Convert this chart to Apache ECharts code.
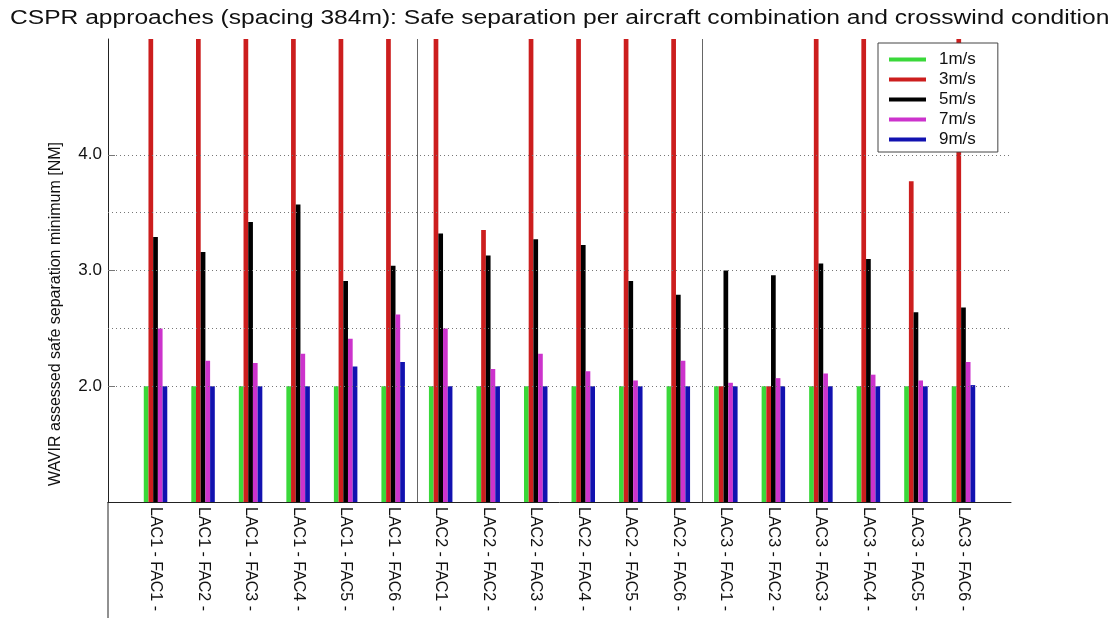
<!DOCTYPE html>
<html>
<head>
<meta charset="utf-8">
<script src="https://cdn.jsdelivr.net/npm/echarts@6/dist/echarts.min.js"></script>
<style>
  html, body { margin: 0; padding: 0; background: #fff; }
  #main { width: 1114px; height: 618px; }
</style>
</head>
<body>
<div id="main"></div>
<script>
    // aircraft combinations (x positions 1..18, axis runs 0..19)
    var combos = [
        'LAC1 - FAC1 -', 'LAC1 - FAC2 -', 'LAC1 - FAC3 -', 'LAC1 - FAC4 -', 'LAC1 - FAC5 -', 'LAC1 - FAC6 -',
        'LAC2 - FAC1 -', 'LAC2 - FAC2 -', 'LAC2 - FAC3 -', 'LAC2 - FAC4 -', 'LAC2 - FAC5 -', 'LAC2 - FAC6 -',
        'LAC3 - FAC1 -', 'LAC3 - FAC2 -', 'LAC3 - FAC3 -', 'LAC3 - FAC4 -', 'LAC3 - FAC5 -', 'LAC3 - FAC6 -'
    ];
    var winds = ['1m/s', '3m/s', '5m/s', '7m/s', '9m/s'];

    // safe separation [NM]; 3m/s values above 5 run off the top of the plot
    var sep1 = [2.0, 2.0, 2.0, 2.0, 2.0, 2.0, 2.0, 2.0, 2.0, 2.0, 2.0, 2.0, 2.0, 2.0, 2.0, 2.0, 2.0, 2.0];
    var sep3 = [5.6, 5.6, 5.6, 5.6, 5.6, 5.6, 5.6, 3.35, 5.6, 5.6, 5.6, 5.6, 2.0, 2.0, 5.6, 5.6, 3.77, 5.6];
    var sep5 = [3.29, 3.16, 3.42, 3.57, 2.91, 3.04, 3.32, 3.13, 3.27, 3.22, 2.91, 2.79, 3.0, 2.96, 3.06, 3.1, 2.64, 2.68];
    var sep7 = [2.5, 2.22, 2.2, 2.28, 2.41, 2.62, 2.5, 2.15, 2.28, 2.13, 2.05, 2.22, 2.03, 2.07, 2.11, 2.1, 2.05, 2.21];
    var sep9 = [2.0, 2.0, 2.0, 2.0, 2.17, 2.21, 2.0, 2.0, 2.0, 2.0, 2.0, 2.0, 2.0, 2.0, 2.0, 2.0, 2.0, 2.01];

    var gridValues = [2.0, 2.5, 3.0, 3.5, 4.0];
    var groupBreaks = [6.5, 12.5];
    var colors = ['#3ad83a', '#cc1e1e', '#000000', '#cc33cc', '#1212b0'];

    var font = '"Liberation Sans", Arial, sans-serif';
    var allSeps = [sep1, sep3, sep5, sep7, sep9];

    var myChart = echarts.init(document.getElementById('main'));

    var series = winds.map(function (w, k) {
        return {
            name: w,
            type: 'bar',
            barWidth: 4.7,
            barGap: '0%',
            clip: true,
            z: 3,
            itemStyle: { color: colors[k] },
            data: allSeps[k].map(function (v, i) { return [i + 1, v]; })
        };
    });

    // dotted grid lines and group separators
    series.push({
        name: 'guides',
        type: 'line',
        data: [],
        z: 1,
        silent: true,
        markLine: {
            silent: true,
            symbol: 'none',
            label: { show: false },
            animation: false,
            data: gridValues.map(function (v) {
                return { yAxis: v, lineStyle: { type: [1, 3], color: '#777', width: 1 } };
            }).concat(groupBreaks.map(function (x) {
                return { xAxis: x, lineStyle: { type: 'solid', color: '#666', width: 1 } };
            }))
        }
    });

    option = {
        animation: false,
        legend: {
            data: winds,
            orient: 'vertical',
            left: 878,
            top: 43,
            icon: 'rect',
            itemWidth: 37,
            itemHeight: 4,
            itemGap: 3,
            padding: [8, 22, 4, 11],
            backgroundColor: '#fff',
            borderColor: '#444',
            borderWidth: 1,
            textStyle: { fontFamily: font, fontSize: 17, color: '#111', padding: [0, 0, 0, 8] }
        },
        grid: { left: 108, right: 103, top: 39, bottom: 116 },
        xAxis: {
            type: 'value',
            min: 0,
            max: 19,
            interval: 1,
            splitLine: { show: false },
            axisTick: { show: false },
            axisLine: { lineStyle: { color: '#222', width: 1 } },
            axisLabel: {
                rotate: -90,
                margin: 5,
                fontFamily: font,
                fontSize: 16,
                color: '#111',
                formatter: function (v) { return combos[v - 1] || ''; }
            }
        },
        yAxis: {
            type: 'value',
            min: 1,
            max: 5,
            interval: 0.5,
            splitLine: { show: false },
            axisLine: { show: true, lineStyle: { color: '#222', width: 1 } },
            axisTick: { show: true, inside: true, length: 7, customValues: [2, 3, 4], lineStyle: { color: '#777' } },
            axisLabel: {
                customValues: [2, 3, 4],
                margin: 6,
                fontFamily: font,
                fontSize: 17,
                color: '#111',
                formatter: function (v) { return v.toFixed(1); }
            }
        },
        series: series
    };
    myChart.setOption(option);

    // title (horizontally widened like the source image), y label,
    // and the axis line continuing below the plot
    var origin = myChart.convertToPixel({ gridIndex: 0 }, [0, 1]);
    myChart.setOption({
        graphic: [
            {
                type: 'text',
                x: 10,
                y: 18,
                scaleX: 1.23,
                style: {
                    text: 'CSPR approaches (spacing 384m): Safe separation per aircraft combination and crosswind condition',
                    fontFamily: font,
                    fontSize: 20,
                    fill: '#111',
                    align: 'left',
                    verticalAlign: 'middle'
                }
            },
            {
                type: 'line',
                shape: { x1: origin[0], y1: origin[1], x2: origin[0], y2: 618 },
                style: { stroke: '#222', lineWidth: 1 }
            },
            {
                type: 'text',
                x: 56,
                y: 314,
                rotation: Math.PI / 2,
                style: {
                    text: 'WAVIR assessed safe separation minimum [NM]',
                    fontFamily: font,
                    fontSize: 16,
                    fill: '#111',
                    align: 'center',
                    verticalAlign: 'middle'
                }
            }
        ]
    });
</script>
</body>
</html>
